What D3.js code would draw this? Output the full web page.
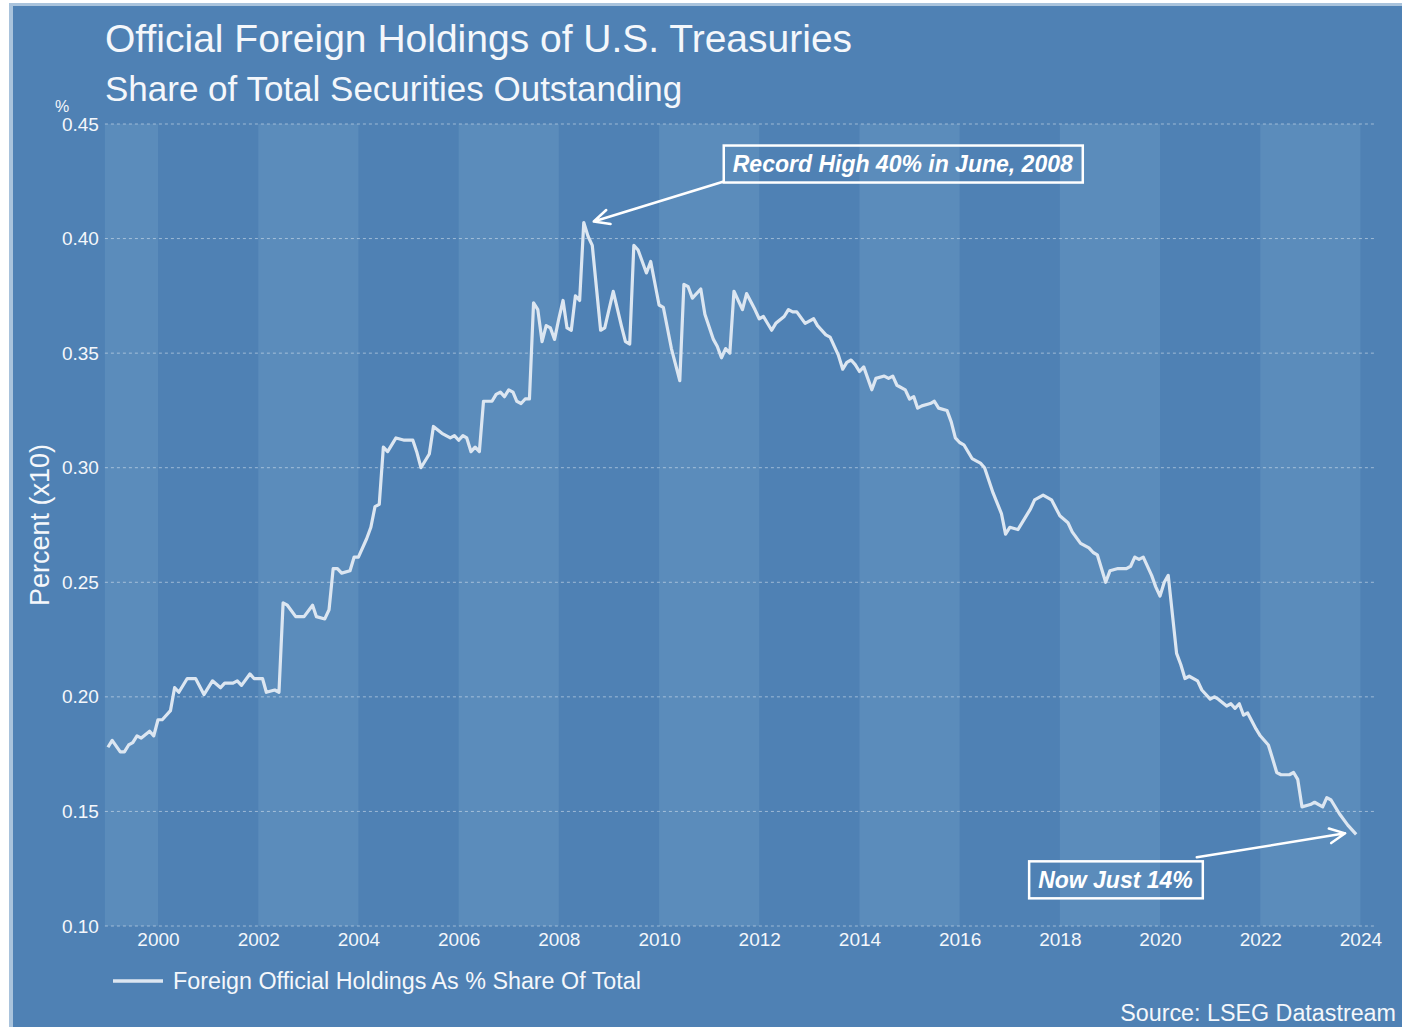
<!DOCTYPE html>
<html>
<head>
<meta charset="utf-8">
<script src="https://cdn.jsdelivr.net/npm/d3@7"></script>
<style>
  body { margin: 0; background: #fff; }
  text { font-family: "Liberation Sans", Arial, sans-serif; }
</style>
</head>
<body>
<div id="chart"></div>
<script>
// Monthly readings (month-end), share of total securities outstanding
const months = [
  "1998-12", "1999-01", "1999-03", "1999-04", "1999-05", "1999-06", "1999-07", "1999-08", "1999-10", "1999-11", "1999-12",
  "2000-01", "2000-03", "2000-04", "2000-05", "2000-07", "2000-08", "2000-09", "2000-11",
  "2001-01", "2001-03", "2001-04", "2001-06", "2001-07", "2001-08", "2001-10", "2001-11",
  "2002-01", "2002-02", "2002-04", "2002-05", "2002-06", "2002-07", "2002-09", "2002-11",
  "2003-01", "2003-02", "2003-04", "2003-05", "2003-06", "2003-07", "2003-08", "2003-10", "2003-11", "2003-12",
  "2004-02", "2004-03", "2004-04", "2004-05", "2004-06", "2004-07", "2004-09", "2004-11",
  "2005-01", "2005-02", "2005-03", "2005-05", "2005-06", "2005-08", "2005-10", "2005-11", "2005-12",
  "2006-01", "2006-02", "2006-03", "2006-04", "2006-05", "2006-06", "2006-08", "2006-09", "2006-10", "2006-11", "2006-12",
  "2007-01", "2007-02", "2007-03", "2007-04", "2007-05", "2007-06", "2007-07", "2007-08", "2007-09", "2007-10", "2007-11", "2007-12",
  "2008-01", "2008-02", "2008-03", "2008-04", "2008-05", "2008-06", "2008-07", "2008-08", "2008-10", "2008-11",
  "2009-01", "2009-03", "2009-04", "2009-05", "2009-06", "2009-07", "2009-09", "2009-10", "2009-12",
  "2010-01", "2010-03", "2010-05", "2010-06", "2010-07", "2010-08", "2010-10", "2010-11",
  "2011-01", "2011-02", "2011-03", "2011-04", "2011-05", "2011-06", "2011-08", "2011-09", "2011-11", "2011-12",
  "2012-01", "2012-03", "2012-04", "2012-06", "2012-07", "2012-08", "2012-09", "2012-11",
  "2013-01", "2013-02", "2013-04", "2013-05", "2013-07", "2013-08", "2013-09", "2013-10", "2013-11", "2013-12",
  "2014-01", "2014-03", "2014-04", "2014-06", "2014-07", "2014-08", "2014-09", "2014-11", "2014-12",
  "2015-01", "2015-02", "2015-03", "2015-05", "2015-06", "2015-07", "2015-09", "2015-10", "2015-11", "2015-12",
  "2016-01", "2016-03", "2016-04", "2016-05", "2016-06", "2016-08", "2016-10", "2016-11", "2016-12",
  "2017-02", "2017-03", "2017-04", "2017-05", "2017-06", "2017-08", "2017-10", "2017-12",
  "2018-02", "2018-03", "2018-05", "2018-07", "2018-08", "2018-09", "2018-11", "2018-12",
  "2019-02", "2019-04", "2019-05", "2019-06", "2019-07", "2019-08", "2019-10", "2019-11", "2019-12",
  "2020-01", "2020-02", "2020-04", "2020-05", "2020-06", "2020-07", "2020-09", "2020-10", "2020-12",
  "2021-01", "2021-02", "2021-04", "2021-05", "2021-06", "2021-07", "2021-08", "2021-09", "2021-11", "2021-12",
  "2022-02", "2022-03", "2022-04", "2022-05", "2022-07", "2022-08", "2022-09", "2022-10", "2022-12",
  "2023-01", "2023-03", "2023-04", "2023-05", "2023-07", "2023-09", "2023-11"
];
const share = [
  0.178, 0.181, 0.176, 0.176, 0.179, 0.180, 0.183, 0.182, 0.185, 0.183, 0.190,
  0.190, 0.194, 0.204, 0.202, 0.208, 0.208, 0.208, 0.201,
  0.207, 0.204, 0.206, 0.206, 0.207, 0.205, 0.210, 0.208,
  0.208, 0.202, 0.203, 0.202, 0.241, 0.240, 0.235, 0.235,
  0.240, 0.235, 0.234, 0.238, 0.256, 0.256, 0.254, 0.255, 0.261, 0.261,
  0.269, 0.274, 0.283, 0.284, 0.309, 0.307, 0.313, 0.312,
  0.312, 0.307, 0.300, 0.306, 0.318, 0.315, 0.313, 0.314, 0.312,
  0.314, 0.313, 0.307, 0.309, 0.307, 0.329, 0.329, 0.332, 0.333, 0.331, 0.334,
  0.333, 0.329, 0.328, 0.330, 0.330, 0.372, 0.369, 0.355, 0.362, 0.361, 0.356, 0.365,
  0.373, 0.361, 0.360, 0.375, 0.373, 0.407, 0.401, 0.397, 0.360, 0.361,
  0.377, 0.362, 0.355, 0.354, 0.397, 0.395, 0.385, 0.390, 0.371,
  0.370, 0.352, 0.338, 0.380, 0.379, 0.374, 0.378, 0.367,
  0.356, 0.353, 0.348, 0.352, 0.350, 0.377, 0.369, 0.376, 0.369, 0.365,
  0.366, 0.360, 0.363, 0.366, 0.369, 0.368, 0.368, 0.363,
  0.365, 0.362, 0.358, 0.357, 0.349, 0.343, 0.346, 0.347, 0.345, 0.342,
  0.344, 0.334, 0.339, 0.340, 0.339, 0.340, 0.336, 0.334, 0.330,
  0.331, 0.326, 0.327, 0.328, 0.329, 0.326, 0.325, 0.320, 0.313, 0.311,
  0.310, 0.304, 0.303, 0.302, 0.300, 0.289, 0.280, 0.271, 0.274,
  0.273, 0.276, 0.279, 0.282, 0.286, 0.288, 0.286, 0.279,
  0.276, 0.272, 0.267, 0.265, 0.263, 0.262, 0.250, 0.255,
  0.256, 0.256, 0.257, 0.261, 0.260, 0.261, 0.253, 0.248, 0.244,
  0.250, 0.253, 0.219, 0.214, 0.208, 0.209, 0.207, 0.203, 0.199,
  0.200, 0.199, 0.196, 0.197, 0.195, 0.197, 0.192, 0.193, 0.186, 0.183,
  0.179, 0.173, 0.167, 0.166, 0.166, 0.167, 0.164, 0.152, 0.153,
  0.154, 0.152, 0.156, 0.155, 0.149, 0.144, 0.140
];

const yTicks = [0.10, 0.15, 0.20, 0.25, 0.30, 0.35, 0.40, 0.45];
const xTickYears = [2000, 2002, 2004, 2006, 2008, 2010, 2012, 2014, 2016, 2018, 2020, 2022, 2024];
const bandStartYears = [1998, 2002, 2006, 2010, 2014, 2018, 2022];

const title = "Official Foreign Holdings of U.S. Treasuries";
const subtitle = "Share of Total Securities Outstanding";
const seriesName = "Foreign Official Holdings As % Share Of Total";
const source = "Source: LSEG Datastream";
const peakNote = "Record High 40% in June, 2008";
const lastNote = "Now Just 14%";

// month-end date: first day of the following month
const data = months.map((m, i) => {
  const [yy, mm] = m.split("-").map(Number);
  return { date: new Date(yy, mm, 1), value: share[i] };
});

const W = 1402, H = 1027;
const panelBg = "#4f81b4", bandLight = "#5b8cbb", ink = "#f4f7fb", lineCol = "#dce6f1";

const svg = d3.select("#chart").append("svg")
  .attr("width", W)
  .attr("height", H);

// page frame
svg.append("rect").attr("width", W).attr("height", H).attr("fill", "#fff");
svg.append("rect").attr("x", 9).attr("y", 3).attr("width", W - 9).attr("height", H - 3).attr("fill", "#a9c3dc");
svg.append("rect").attr("x", 13).attr("y", 6).attr("width", W - 13).attr("height", H - 6).attr("fill", panelBg);

const x = d3.scaleTime()
  .domain([new Date(2000, 0, 1), new Date(2024, 0, 1)])
  .range([158, 1360.4]);

const y = d3.scaleLinear()
  .domain([0.10, 0.45])
  .range([926, 124]);

const plotLeft = x(new Date(1998, 11, 10));
const plotRight = x(new Date(2024, 3, 15));

// alternating two-year bands
svg.append("g")
  .selectAll("rect")
  .data(bandStartYears)
  .join("rect")
  .attr("x", d => Math.max(plotLeft, x(new Date(d, 0, 1))))
  .attr("y", y(0.45))
  .attr("width", d => x(new Date(d + 2, 0, 1)) - Math.max(plotLeft, x(new Date(d, 0, 1))))
  .attr("height", y(0.10) - y(0.45))
  .attr("fill", bandLight);

// dashed gridlines
svg.append("g")
  .selectAll("line")
  .data(yTicks)
  .join("line")
  .attr("x1", plotLeft)
  .attr("x2", plotRight)
  .attr("y1", d => y(d))
  .attr("y2", d => y(d))
  .attr("stroke", "#ffffff")
  .attr("stroke-opacity", 0.45)
  .attr("stroke-width", 1)
  .attr("stroke-dasharray", "3,3");

// y axis labels
const yAxis = svg.append("g")
  .attr("transform", `translate(${plotLeft},0)`)
  .call(d3.axisLeft(y).tickValues(yTicks).tickFormat(d3.format(".2f")).tickSize(0).tickPadding(6));
yAxis.select(".domain").remove();
yAxis.selectAll("text")
  .attr("fill", ink)
  .style("font-size", "19px")
  .style("font-family", "'Liberation Sans', Arial, sans-serif");

svg.append("text")
  .attr("x", 55)
  .attr("y", 112)
  .attr("fill", ink)
  .style("font-size", "16px")
  .text("%");

// x axis labels
const xAxis = svg.append("g")
  .attr("transform", `translate(0,${y(0.10)})`)
  .call(d3.axisBottom(x)
    .tickValues(xTickYears.map(d => new Date(d, 0, 1)))
    .tickFormat(d3.timeFormat("%Y"))
    .tickSize(0)
    .tickPadding(7));
xAxis.select(".domain").remove();
xAxis.selectAll("text")
  .attr("fill", ink)
  .style("font-size", "19px")
  .style("font-family", "'Liberation Sans', Arial, sans-serif");

// series line
const line = d3.line()
  .x(d => x(d.date))
  .y(d => y(d.value));

svg.append("path")
  .datum(data)
  .attr("fill", "none")
  .attr("stroke", lineCol)
  .attr("stroke-width", 3.2)
  .attr("stroke-linejoin", "round")
  .attr("d", line);

// titles
svg.append("text")
  .attr("x", 105)
  .attr("y", 52)
  .attr("fill", ink)
  .style("font-size", "39px")
  .text(title);

svg.append("text")
  .attr("x", 105)
  .attr("y", 101)
  .attr("fill", ink)
  .style("font-size", "35px")
  .text(subtitle);

svg.append("text")
  .attr("transform", `translate(49, ${(y(0.10) + y(0.45)) / 2}) rotate(-90)`)
  .attr("text-anchor", "middle")
  .attr("fill", ink)
  .style("font-size", "27px")
  .text("Percent (x10)");

// legend
svg.append("line")
  .attr("x1", 113).attr("x2", 163)
  .attr("y1", 981).attr("y2", 981)
  .attr("stroke", lineCol)
  .attr("stroke-width", 3.5);

svg.append("text")
  .attr("x", 173)
  .attr("y", 989)
  .attr("fill", ink)
  .style("font-size", "23.3px")
  .text(seriesName);

svg.append("text")
  .attr("x", 1396)
  .attr("y", 1021)
  .attr("text-anchor", "end")
  .attr("fill", ink)
  .style("font-size", "23.3px")
  .text(source);

// annotations: box + arrow pointing at a data point
function annotate(point, boxDx, boxDy, text, fromRight) {
  const px = x(point.date), py = y(point.value);
  const g = svg.append("g");
  const bx = px + boxDx, by = py + boxDy, bh = 37;
  const rect = g.append("rect");
  const t = g.append("text")
    .attr("x", bx + 9)
    .attr("y", by + bh / 2 + 8)
    .attr("fill", "#ffffff")
    .style("font-size", "23px")
    .style("font-weight", "bold")
    .style("font-style", "italic")
    .text(text);
  const bw = t.node().getComputedTextLength() + 19;
  rect.attr("x", bx).attr("y", by)
    .attr("width", bw).attr("height", bh)
    .attr("fill", "none")
    .attr("stroke", "#ffffff")
    .attr("stroke-width", 2.5);

  // arrow from box corner to near the point
  const sx = fromRight ? bx + bw - 6 : bx;
  const sy = fromRight ? by - 4 : by + bh - 1;
  const tx = fromRight ? px - 11 : px + 10;
  const ty = py - 1;
  const ang = Math.atan2(ty - sy, tx - sx);
  const head = 17, spread = Math.PI / 7;
  g.append("path")
    .attr("d", `M${sx},${sy}L${tx},${ty}` +
      `M${tx - head * Math.cos(ang - spread)},${ty - head * Math.sin(ang - spread)}L${tx},${ty}` +
      `L${tx - head * Math.cos(ang + spread)},${ty - head * Math.sin(ang + spread)}`)
    .attr("fill", "none")
    .attr("stroke", "#ffffff")
    .attr("stroke-width", 2.5)
    .attr("stroke-linecap", "round")
    .attr("stroke-linejoin", "round");
}

const peak = data.reduce((a, b) => (b.value > a.value ? b : a));
const last = data[data.length - 1];
annotate(peak, 140, -77, peakNote, false);
annotate(last, -327, 27, lastNote, true);
</script>
</body>
</html>
